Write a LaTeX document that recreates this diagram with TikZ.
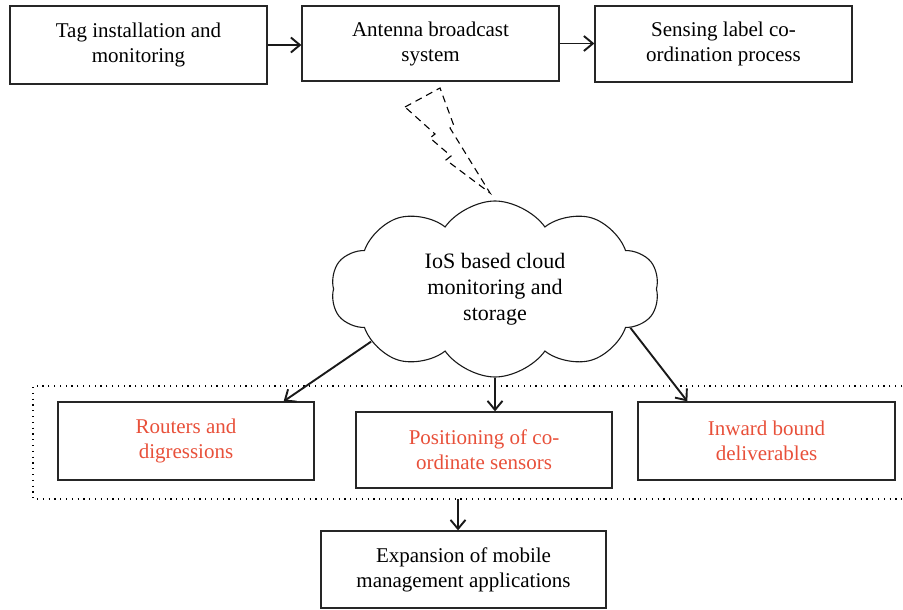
\documentclass[tikz,border=0pt]{standalone}
\usepackage{fontspec}
\setmainfont{Liberation Serif}
\usetikzlibrary{arrows.meta,shapes.symbols}
\definecolor{accent}{RGB}{232,80,58}
\begin{document}
\begin{tikzpicture}[x=1pt,y=-1pt,
  box/.style={draw=black!85,line width=1.3pt,align=center,inner sep=2pt,
    font=\fontsize{21}{25}\selectfont},
  redbox/.style={box,text=accent},
  flow/.style={line width=1.9pt,black!90,-{Straight Barb[length=9pt,width=15pt]}},
  bolt/.style={line width=1.1pt,dash pattern=on 7pt off 5pt}]
\useasboundingbox (0,0) rectangle (903,610);

% top row
\node[box,minimum width=257pt,minimum height=78pt] (t1) at (138.5,45) {Tag installation and\\monitoring};
\node[box,minimum width=257pt,minimum height=75pt] (t2) at (430.5,43.5) {Antenna broadcast\\system};
\node[box,minimum width=257pt,minimum height=76pt] (t3) at (723.5,44) {Sensing label co-\\ordination process};
\draw[flow] (t1.east) -- (t1.east -| t2.west);
\draw[flow] (t2.east) -- (t2.east -| t3.west);

% wireless link
\draw[bolt] (405,107) -- (440,88) -- (454,126) -- (450,128) -- (490,193)
  -- (446,160) -- (451,156) -- (430,138) -- (435,134) -- cycle;

% cloud
\node[cloud,cloud ignores aspect,draw=black!90,line width=1.1pt,cloud puffs=10,cloud puff arc=110,
  minimum width=328pt,minimum height=176pt,inner sep=0pt,align=center,
  font=\fontsize{22}{26}\selectfont] (cl) at (495,289)
  {IoS based cloud\\monitoring and\\storage};

% dotted group
\coordinate (g) at (458,499);
\draw[line width=1.2pt,dash pattern=on 1.2pt off 4.6pt] (902,386) -- (33,386) -- (33,499) -- (902,499);

% group members
\node[redbox,minimum width=256pt,minimum height=78pt] (r1) at (186,441) {Routers and\\digressions};
\node[redbox,minimum width=256pt,minimum height=76pt] (r2) at (484,450) {Positioning of co-\\ordinate sensors};
\node[redbox,minimum width=257pt,minimum height=78pt] (r3) at (766.5,441) {Inward bound\\deliverables};

\draw[flow] (cl.203) -- ([xshift=-31pt]r1.north east);
\draw[flow] (cl.south) -- (cl.south |- r2.north);
\draw[flow] (cl.344) -- ([xshift=50pt]r3.north west);

% bottom
\node[box,minimum width=285pt,minimum height=77pt] (b) at (463.5,569.5) {Expansion of mobile\\management applications};
\draw[flow] (g) -- (g |- b.north);
\end{tikzpicture}
\end{document}
